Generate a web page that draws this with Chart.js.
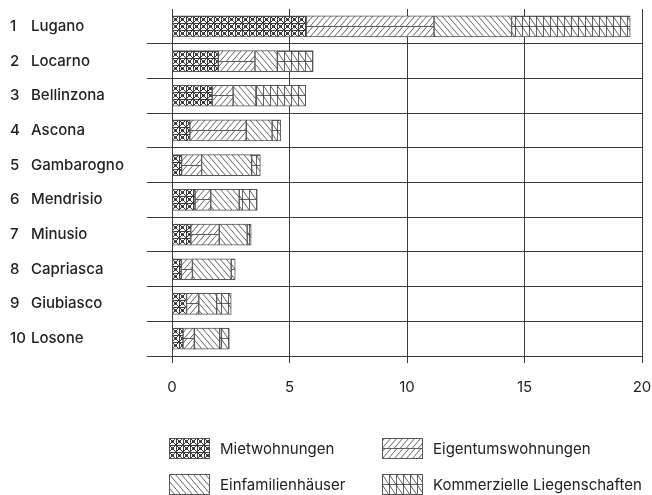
<!DOCTYPE html>
<html>
<head>
<meta charset="utf-8">
<script src="https://cdn.jsdelivr.net/npm/chart.js@4.4.1/dist/chart.umd.min.js"></script>
<style>
  html, body { margin: 0; padding: 0; background: #fff; }
  #wrap { position: relative; width: 652px; height: 495px; }
  #legend { position: absolute; left: 0; top: 0; width: 652px; height: 495px;
            font-family: Inter, "Noto Sans", sans-serif; font-size: 15px; color: #222; }
  .item { position: absolute; height: 21px; display: flex; align-items: center; white-space: nowrap; }
  .item canvas { display: block; width: 41px; height: 21px; margin-right: 10px; }
</style>
</head>
<body>
<div id="wrap">
  <canvas id="chart" width="652" height="495" style="width:652px;height:495px"></canvas>
  <div id="legend"></div>
</div>
<script>
// Top-10 Tessin municipalities, stacked by property type
const ranks = [1, 2, 3, 4, 5, 6, 7, 8, 9, 10];
const cities = ["Lugano", "Locarno", "Bellinzona", "Ascona", "Gambarogno",
                "Mendrisio", "Minusio", "Capriasca", "Giubiasco", "Losone"];
const mietwohnungen        = [5.72, 1.97, 1.71, 0.76, 0.41, 0.98, 0.80, 0.39, 0.62, 0.47];
const eigentumswohnungen   = [5.43, 1.56, 0.89, 2.40, 0.85, 0.67, 1.21, 0.48, 0.52, 0.48];
const einfamilienhaeuser   = [3.30, 0.95, 0.97, 1.10, 2.13, 1.21, 1.19, 1.65, 0.76, 1.08];
const kommerzielle         = [5.05, 1.53, 2.12, 0.37, 0.37, 0.77, 0.17, 0.17, 0.62, 0.41];
const seriesNames = ["Mietwohnungen", "Eigentumswohnungen", "Einfamilienhäuser", "Kommerzielle Liegenschaften"];
const xTicks = [0, 5, 10, 15, 20];

const BAR = 21;
const INK = "#3a3a3a";

// hatch tiles, one bar (21px) high
function tile(kind) {
  const c = document.createElement("canvas");
  const w = kind === "eig" || kind === "efh" ? 6 : 7;
  const h = kind === "miet" ? 7 : 21;
  c.width = w; c.height = h;
  const g = c.getContext("2d");
  g.fillStyle = "#fff"; g.fillRect(0, 0, w, h);
  g.strokeStyle = INK; g.lineWidth = 0.8;
  const line = (x1, y1, x2, y2) => { g.beginPath(); g.moveTo(x1, y1); g.lineTo(x2, y2); g.stroke(); };
  if (kind === "miet") {
    g.lineWidth = 1;
    line(0.5, 0, 0.5, 7); line(0, 0.5, 7, 0.5);
    line(0, 0, 7, 7); line(7, 0, 0, 7);
    g.fillStyle = "#222";
    g.beginPath(); g.arc(3.5, 3.5, 1.3, 0, Math.PI * 2); g.fill();
  } else if (kind === "eig") {
    line(0, 10.5, w, 10.5);
    for (let k = -3; k <= 3; k++) {
      line(6 * k, 10.5, 6 * k + 9, 0);
      line(6 * k, 21, 6 * k + 9, 10.5);
    }
  } else if (kind === "efh") {
    for (let k = -4; k <= 2; k++) {
      line(6 * k, 0, 6 * k + 9, 10.5);
      line(6 * k + 9, 10.5, 6 * k + 18, 21);
    }
  } else {
    line(0.5, 0, 0.5, 21); line(0, 0.5, 7, 0.5); line(0, 10.5, 7, 10.5);
    line(0, 0, 7, 10.5); line(0, 10.5, 7, 21);
  }
  return c;
}
const kinds = ["miet", "eig", "efh", "komm"];
const tiles = {};
kinds.forEach(k => tiles[k] = tile(k));

// pattern aligned to the top of each bar
function barFill(kind) {
  return (c) => {
    const chart = c.chart;
    const y = chart.scales.y;
    if (!y || c.dataIndex === undefined || !chart.chartArea) return "#fff";
    const top = Math.round(y.getPixelForValue(c.dataIndex) - BAR / 2);
    const p = chart.ctx.createPattern(tiles[kind], "repeat");
    p.setTransform(new DOMMatrix([1, 0, 0, 1, Math.round(chart.chartArea.left), top]));
    return p;
  };
}

const values = [mietwohnungen, eigentumswohnungen, einfamilienhaeuser, kommerzielle];

const rowLabels = {
  id: "rowLabels",
  afterDraw(chart) {
    const { ctx } = chart;
    const y = chart.scales.y;
    ctx.save();
    ctx.font = "500 15px Inter, 'Noto Sans', sans-serif";
    ctx.fillStyle = "#222";
    ctx.textBaseline = "middle";
    cities.forEach((name, i) => {
      const py = y.getPixelForValue(i);
      const r = String(ranks[i]);
      ctx.fillText(r, 10, py);
      ctx.fillText(name, Math.max(31, 10 + ctx.measureText(r).width + 3), py);
    });
    ctx.restore();
  }
};

new Chart(document.getElementById("chart"), {
  type: "bar",
  data: {
    labels: cities,
    datasets: values.map((v, i) => ({
      label: seriesNames[i],
      data: v,
      backgroundColor: barFill(kinds[i]),
      borderColor: "#555",
      borderWidth: 1,
      borderSkipped: false,
      barThickness: BAR,
    })),
  },
  options: {
    indexAxis: "y",
    responsive: false,
    animation: false,
    events: [],
    layout: { padding: { top: 9, right: 10, bottom: 99, left: 0 } },
    plugins: { legend: { display: false }, tooltip: { enabled: false } },
    scales: {
      x: {
        stacked: true,
        min: 0,
        max: 20,
        afterBuildTicks: (s) => { s.ticks = xTicks.map(v => ({ value: v })); },
        afterFit: (s) => { s.height = 40; s.paddingLeft = 0; s.paddingRight = 0; },
        grid: { color: INK, lineWidth: 1, tickLength: 7 },
        border: { color: INK, width: 1 },
        ticks: { padding: 15, color: "#222", font: { family: "Inter, 'Noto Sans', sans-serif", size: 15 } },
      },
      y: {
        stacked: true,
        afterFit: (s) => { s.width = 172; },
        grid: {
          offset: true,
          tickLength: 25,
          color: (c) => (c.index === 0 ? "rgba(0,0,0,0)" : INK),
          lineWidth: 1,
        },
        border: { color: INK, width: 1 },
        ticks: { display: false },
      },
    },
  },
  plugins: [rowLabels],
});

// legend, two columns under the plot
const legendPos = [[169, 438], [382, 438], [169, 474], [382, 474]];
const legend = document.getElementById("legend");
seriesNames.forEach((name, i) => {
  const item = document.createElement("div");
  item.className = "item";
  item.style.left = legendPos[i][0] + "px";
  item.style.top = legendPos[i][1] + "px";
  const sw = document.createElement("canvas");
  sw.width = 41; sw.height = 21;
  const g = sw.getContext("2d");
  g.fillStyle = g.createPattern(tiles[kinds[i]], "repeat");
  g.fillRect(0, 0, 41, 21);
  g.strokeStyle = "#555"; g.lineWidth = 1;
  g.strokeRect(0.5, 0.5, 40, 20);
  const span = document.createElement("span");
  span.textContent = name;
  item.appendChild(sw);
  item.appendChild(span);
  legend.appendChild(item);
});
</script>
</body>
</html>
